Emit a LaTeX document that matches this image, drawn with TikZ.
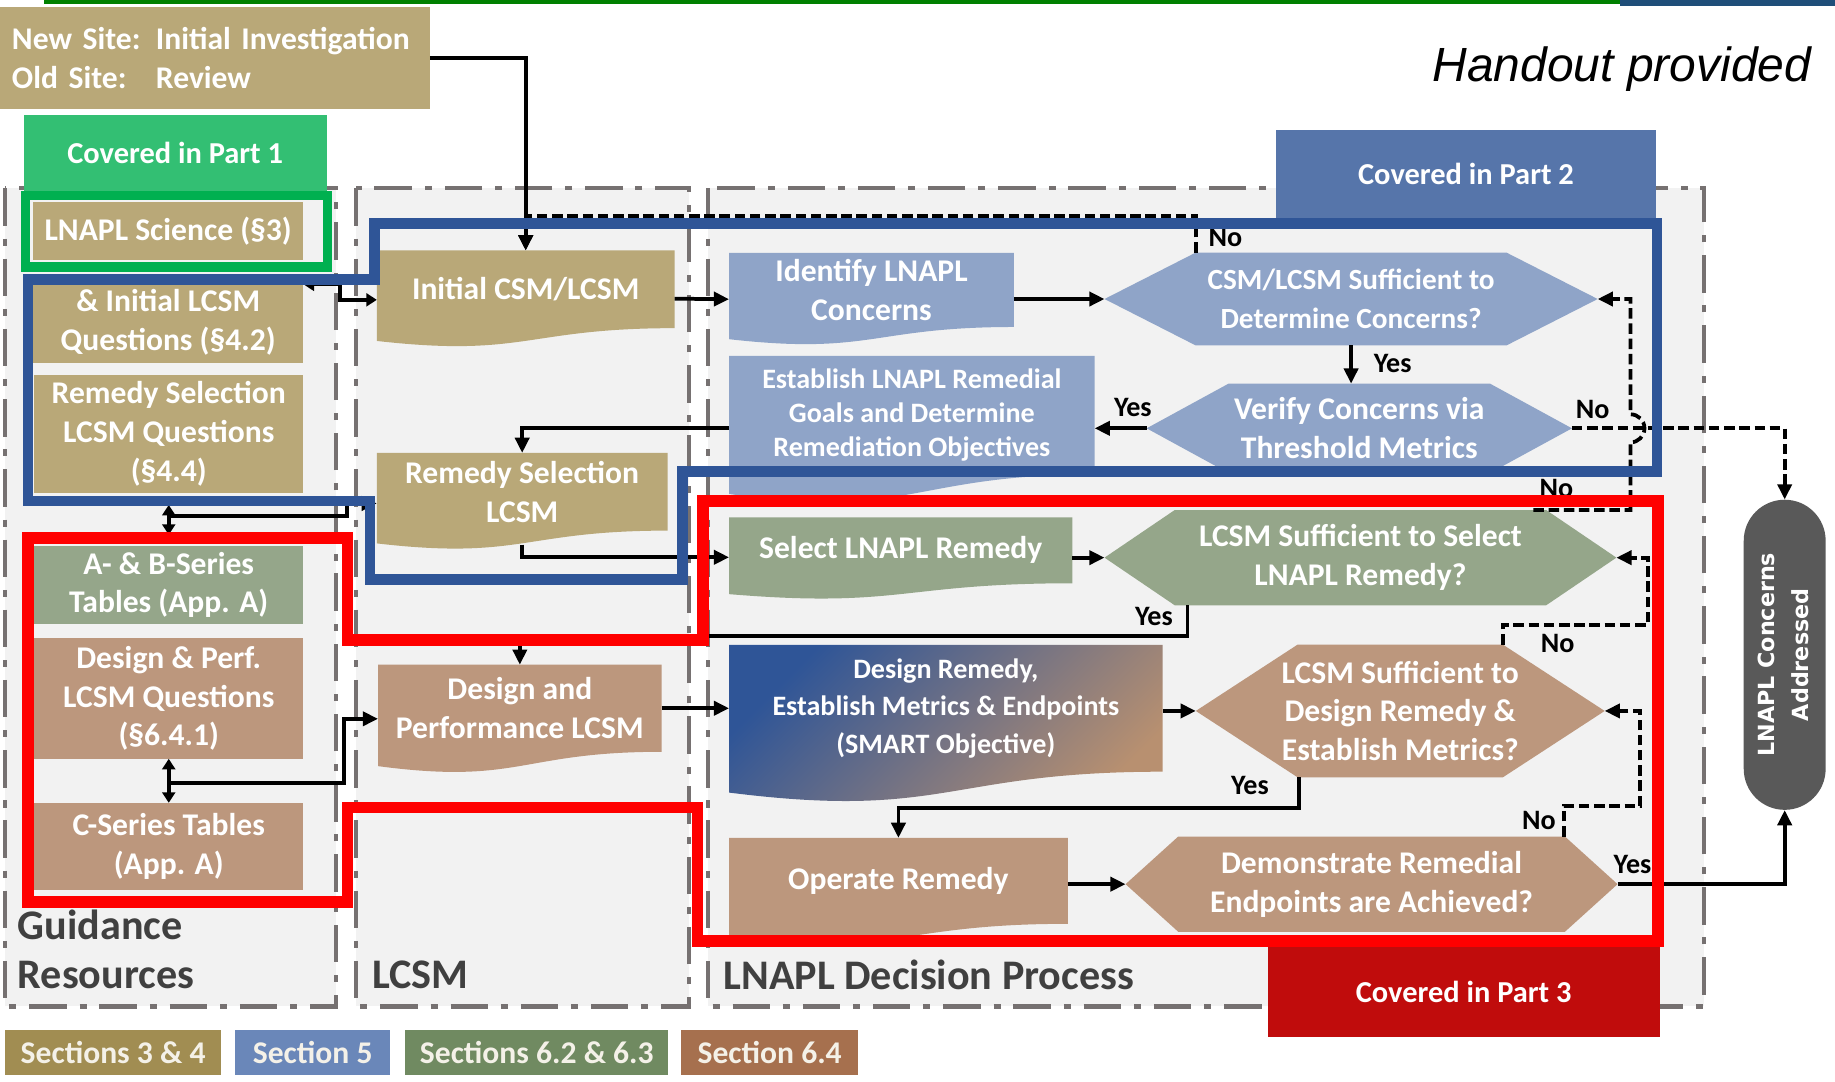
\documentclass[tikz,border=0pt]{standalone}
\usepackage{fontspec}
\setmainfont{Carlito}
\newfontfamily\handfont{Liberation Sans}
\newfontfamily\pillfont{DejaVu Sans}
\usepackage{graphicx}
\usetikzlibrary{arrows.meta,calc}
\pgfdeclarelayer{bg}
\pgfsetlayers{bg,main}
\definecolor{tanfill}{RGB}{185,168,120}
\definecolor{bluefill}{RGB}{143,164,200}
\definecolor{sagefill}{RGB}{149,166,138}
\definecolor{brownfill}{RGB}{188,151,125}
\definecolor{gradend}{RGB}{184,144,112}
\definecolor{lanefill}{RGB}{242,242,242}
\definecolor{laneedge}{RGB}{118,113,113}
\definecolor{lanetext}{RGB}{64,64,64}
\definecolor{partone}{RGB}{51,191,115}
\definecolor{outlinegreen}{RGB}{0,176,80}
\definecolor{parttwo}{RGB}{86,117,170}
\definecolor{outlineblue}{RGB}{47,85,151}
\definecolor{partthree}{RGB}{192,12,12}
\definecolor{donegray}{RGB}{89,89,89}
\definecolor{legtan}{RGB}{161,141,82}
\definecolor{legblue}{RGB}{106,135,185}
\definecolor{legsage}{RGB}{112,138,97}
\definecolor{legbrown}{RGB}{166,112,78}
\definecolor{legtext}{RGB}{244,241,232}
\definecolor{topgreen}{RGB}{0,128,0}
\definecolor{topblue}{RGB}{31,78,121}
\tikzset{
  every node/.style={inner sep=0pt,align=center,text=white,
    font=\fontsize{27}{33}\selectfont\bfseries},
  plainbox/.style={fill=#1,anchor=north west},
  docbox/.style={anchor=north west},
  smalltext/.style={font=\fontsize{24}{29}\selectfont\bfseries},
  partbox/.style={fill=#1,anchor=north west,font=\fontsize{26}{30}\selectfont\bfseries},
  legbox/.style={fill=#1,anchor=north west,minimum height=38pt,text=legtext},
  lanebox/.style={fill=lanefill,draw=laneedge,line width=3.5pt,
    dash pattern=on 32pt off 11pt on 6pt off 11pt},
  lanelabel/.style={anchor=west,text=lanetext,font=\fontsize{36}{43}\selectfont\bfseries},
  answer/.style={text=black,font=\fontsize{24}{28}\selectfont\bfseries},
  flowarrow/.style={line width=3.2pt,-{Triangle[length=13pt,width=12pt]}},
  twoway/.style={line width=3.2pt,{Triangle[length=9pt,width=11pt]}-{Triangle[length=9pt,width=11pt]}},
  noarrow/.style={flowarrow,dash pattern=on 9pt off 4pt},
}
% wavy "document" fill behind a node
\newcommand{\docfill}[2]{%
  \begin{pgfonlayer}{bg}
  \path[#2] let \p1=(#1.north west), \p2=(#1.south east), \n1={\y1-\y2} in
    (\p1) -- (\x2,\y1) -- (\p2)
    .. controls ({(\x1+\x2)/2},\y2) and ({(\x1+\x2)/2},{\y2-0.381*\n1}) ..
    (\x1,{\y2-0.1646*\n1}) -- cycle;
  \end{pgfonlayer}}
% hexagon fill behind a decision node
\newcommand{\hexfill}[3]{%
  \begin{pgfonlayer}{bg}
  \fill[#3] (#1.west) -- ($(#1.north west)+(#2,0)$) -- ($(#1.north east)-(#2,0)$)
    -- (#1.east) -- ($(#1.south east)-(#2,0)$) -- ($(#1.south west)+(#2,0)$) -- cycle;
  \end{pgfonlayer}}

\begin{document}
\begin{tikzpicture}[x=1pt,y=-1pt]
  \useasboundingbox (0,0) rectangle (1568,924);
  \fill[topgreen] (38,0) rectangle (1384,3.5);
  \fill[topblue] (1384,0) rectangle (1568,5.5);

  % swimlanes
  \begin{pgfonlayer}{bg}
    \draw[lanebox] (4,161) rectangle (287,860);
    \draw[lanebox] (304,161) rectangle (589,860);
    \draw[lanebox] (605,161) rectangle (1456,860);
  \end{pgfonlayer}
  \node[lanelabel] (guid) at (15,790) {Guidance};
  \node[lanelabel] (reso) at (15,833) {Resources};
  \node[lanelabel] (lcsm) at (318,833) {LCSM};
  \node[lanelabel] (ldp) at (618,833) {LNAPL Decision Process};

  \node[font=\handfont\itshape\fontsize{41}{48}\selectfont,text=black,anchor=base east]
    (hand) at (1548,70) {Handout provided};

  \node[plainbox=tanfill,minimum width=367pt,minimum height=87pt,align=left,text width=347pt]
    (site) at (0,6) {\makebox[123pt][l]{New Site:}Initial Investigation\\\makebox[123pt][l]{Old Site:}Review};
  \node[partbox=partone,minimum width=259pt,minimum height=65pt] (part1) at (20,98) {Covered in Part 1};
  \node[partbox=parttwo,minimum width=325pt,minimum height=75pt] (part2) at (1090,111) {Covered in Part 2};
  \node[partbox=partthree,minimum width=335pt,minimum height=77pt] (part3) at (1083,809) {Covered in Part 3};

  % guidance resources
  \node[plainbox=tanfill,minimum width=231pt,minimum height=50pt] (sci) at (28,172) {LNAPL Science (§3)};
  \node[plainbox=tanfill,minimum width=231pt,minimum height=70pt] (initq) at (28,240) {\& Initial LCSM\\Questions (§4.2)};
  \node[plainbox=tanfill,minimum width=230pt,minimum height=101pt] (selq) at (29,320) {Remedy Selection\\LCSM Questions\\(§4.4)};
  \node[plainbox=sagefill,minimum width=230pt,minimum height=67pt] (abtab) at (29,466) {A- \& B-Series\\Tables (App. A)};
  \node[plainbox=brownfill,minimum width=230pt,minimum height=103pt] (desq) at (29,545) {Design \& Perf.\\LCSM Questions\\(§6.4.1)};
  \node[plainbox=brownfill,minimum width=230pt,minimum height=74pt] (ctab) at (29,686) {C-Series Tables\\(App. A)};

  % LCSM column
  \node[docbox,minimum width=254pt,minimum height=66pt] (initcsm) at (322,214) {Initial CSM/LCSM};
  \node[docbox,minimum width=248pt,minimum height=66pt] (selcsm) at (322,387) {Remedy Selection\\LCSM};
  \node[docbox,minimum width=242pt,minimum height=74pt] (descsm) at (323,568) {Design and\\Performance LCSM};
  \docfill{initcsm}{fill=tanfill}
  \docfill{selcsm}{fill=tanfill}
  \docfill{descsm}{fill=brownfill}

  % decision process
  \node[docbox,minimum width=243pt,minimum height=63pt] (ident) at (623,216) {Identify LNAPL\\Concerns};
  \node[docbox,smalltext,minimum width=312pt,minimum height=101pt] (goals) at (623,304) {Establish LNAPL Remedial\\Goals and Determine\\Remediation Objectives};
  \node[docbox,minimum width=293pt,minimum height=56pt] (select) at (623,442) {Select LNAPL Remedy};
  \node[docbox,font=\fontsize{24}{32}\selectfont\bfseries,minimum width=370pt,minimum height=108pt] (design) at (623,551) {Design Remedy,\\Establish Metrics \& Endpoints\\(SMART Objective)};
  \node[docbox,minimum width=289pt,minimum height=73pt] (operate) at (623,716) {Operate Remedy};
  \docfill{ident}{fill=bluefill}
  \docfill{goals}{fill=bluefill}
  \docfill{select}{fill=sagefill}
  \docfill{design}{top color=outlineblue,bottom color=gradend,shading angle=45}
  \docfill{operate}{fill=brownfill}

  \node[font=\fontsize{25}{33}\selectfont\bfseries,minimum width=421pt,minimum height=79pt] (qdet) at (1154.5,255.5) {CSM/LCSM Sufficient to\\Determine Concerns?};
  \node[minimum width=363pt,minimum height=76pt] (qver) at (1161.5,366) {Verify Concerns via\\Threshold Metrics};
  \node[minimum width=437pt,minimum height=81pt] (qsel) at (1162.5,476.5) {LCSM Sufficient to Select\\LNAPL Remedy?};
  \node[minimum width=349pt,minimum height=113pt] (qdes) at (1196.5,607.5) {LCSM Sufficient to\\Design Remedy \&\\Establish Metrics?};
  \node[minimum width=420pt,minimum height=81pt] (qend) at (1172,755.5) {Demonstrate Remedial\\Endpoints are Achieved?};
  \hexfill{qdet}{78}{bluefill}
  \hexfill{qver}{70}{bluefill}
  \hexfill{qsel}{60}{sagefill}
  \hexfill{qdes}{87}{brownfill}
  \hexfill{qend}{45}{brownfill}

  \node[fill=donegray,rounded corners=35pt,minimum width=70pt,minimum height=265pt] (done) at (1525,559.5)
    {\rotatebox{90}{\pillfont\fontsize{19}{29}\selectfont\bfseries\begin{tabular}{@{}c@{}}LNAPL Concerns\\Addressed\end{tabular}}};

  % legend
  \node[legbox=legtan,minimum width=185pt] (leg1) at (4,880) {Sections 3 \& 4};
  \node[legbox=legblue,minimum width=132pt] (leg2) at (201,880) {Section 5};
  \node[legbox=legsage,minimum width=225pt] (leg3) at (346,880) {Sections 6.2 \& 6.3};
  \node[legbox=legbrown,minimum width=151pt] (leg4) at (582,880) {Section 6.4};

  % connectors
  \draw[flowarrow] (site.east) -| (initcsm.north);
  \draw[twoway] ($(initq.north east)+(0,3)$) -- ++(31,0) |- ($(initcsm.west)+(0,9)$);
  \draw[twoway] ($(selq.south)+(0,10)$) -- ($(abtab.north)+(0,-9)$);
  \coordinate (j1) at ($(selq.south)!0.44!(abtab.north)$);
  \draw[flowarrow] (j1) -- ++(152,0) |- ($(selcsm.west)+(0,10)$);
  \draw[twoway] (desq.south) -- (ctab.north);
  \coordinate (j2) at ($(desq.south)!0.55!(ctab.north)$);
  \draw[flowarrow] (j2) -- ++(150,0) |- ($(descsm.west)+(0,9)$);

  \draw[flowarrow] ($(initcsm.east)+(0,8)$) -- ($(ident.west)+(0,8)$);
  \draw[flowarrow] (ident.east |- qdet.west) -- (qdet.west);
  \draw[flowarrow] (qdet.south) -- (qdet.south |- qver.north);
  \draw[flowarrow] (qver.west) -- (qver.west -| goals.east);
  \draw[flowarrow] ($(goals.west)+(0,11)$) -| (selcsm.north);
  \draw[flowarrow] ($(selcsm.south)+(0,12)$) |- ($(select.west)+(0,6)$);
  \draw[flowarrow] (select.east |- qsel.west) -- (qsel.west);
  \coordinate (s4) at ($(qsel.south west)+(71,0)$);
  \draw[flowarrow] (s4) -- ++(0,26) -| (descsm.north);
  \draw[flowarrow] (descsm.east) -- (descsm.east -| design.west);
  \draw[flowarrow] (design.east |- qdes.west) -- (qdes.west);
  \coordinate (s5) at ($(qdes.south west)+(88,0)$);
  \draw[flowarrow] (s5) -- ++(0,26) -| (operate.north);
  \draw[flowarrow] (operate.east |- qend.west) -- (qend.west);
  \draw[flowarrow] (qend.east) -| (done.south);

  \coordinate (s1) at ($(qdet.north west)+(78,0)$);
  \draw[noarrow] (s1) -- ++(0,-31) -| (initcsm.north);
  \draw[noarrow] (qver.east) -| (done.north);
  \coordinate (r1) at ($(qdet.east)+(28,0)$);
  \coordinate (s3) at ($(qsel.north east)+(-71,0)$);
  \draw[noarrow] (s3) -- (s3 -| r1) -- ($(r1 |- qver.east)+(0,12)$)
    arc[start angle=-90,end angle=90,radius=12pt] -- (r1) -- (qdet.east);
  \coordinate (s6) at ($(qdes.north east)+(-87,0)$);
  \coordinate (r2) at ($(qsel.east)+(27,0)$);
  \draw[noarrow] (s6) -- ++(0,-17) -| (r2) -- (qsel.east);
  \coordinate (s7) at ($(qend.north east)+(-46,0)$);
  \coordinate (r3) at ($(qdes.east)+(30,0)$);
  \draw[noarrow] (s7) -- ++(0,-26) -| (r3) -- (qdes.east);

  % yes / no
  \node[answer] (no1) at (1047,203) {No};
  \node[answer] (yes1) at (1190,311) {Yes};
  \node[answer] (yes2) at (968,348) {Yes};
  \node[answer] (no2) at (1361,350) {No};
  \node[answer] (no3) at (1330,417) {No};
  \node[answer] (yes3) at (986,527) {Yes};
  \node[answer] (no4) at (1331,550) {No};
  \node[answer] (yes4) at (1068,671) {Yes};
  \node[answer] (no5) at (1315,701) {No};
  \node[answer] (yes5) at (1395,739) {Yes};

  % part outlines
  \draw[outlinegreen,line width=8pt] (22,167) rectangle (280,228);
  \draw[outlineblue,line width=9pt] (24,239) -- (320,239) -- (320,191) -- (1416,191) -- (1416,403)
    -- (583,403) -- (583,495) -- (316,495) -- (316,428) -- (24,428) -- cycle;
  \draw[red,line width=10pt] (24,460) -- (297,460) -- (297,547) -- (601,547) -- (601,428)
    -- (1417,428) -- (1417,804) -- (596,804) -- (596,690) -- (297,690) -- (297,771) -- (24,771) -- cycle;
\end{tikzpicture}
\end{document}
